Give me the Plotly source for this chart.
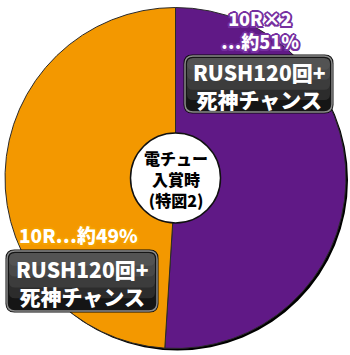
import plotly.graph_objects as go

# ---- data ----
slice_labels = ["10R×2…約51%", "10R…約49%"]
slice_values = [51, 49]
slice_colors = ["#601986", "#F39800"]
center_text = "電チュー<br>入賞時<br>(特図2)"
label_top = "10R×2<br>…約51%"
label_left = "10R…約49%"
box_text = "RUSH120回+<br>死神チャンス"

W, H = 350, 355
FONT = "Noto Sans CJK JP"

fig = go.Figure()

# pie geometry (pixels)
L, R, T, B = 5, 346, 6, 350
fig.add_trace(go.Pie(
    values=slice_values, labels=slice_labels, sort=False,
    direction="clockwise", rotation=0,
    marker=dict(colors=slice_colors, line=dict(color="#2a2a2a", width=1)),
    textinfo="none", hoverinfo="label",
    domain=dict(x=[L / W, R / W], y=[1 - B / H, 1 - T / H]),
    showlegend=False,
))

cx, cy, r = (L + R) / 2, (T + B) / 2, (R - L) / 2


def rrect(x0, y0, x1, y1, rad):
    return (f"M{x0+rad},{y0} L{x1-rad},{y0} Q{x1},{y0} {x1},{y0+rad} "
            f"L{x1},{y1-rad} Q{x1},{y1} {x1-rad},{y1} L{x0+rad},{y1} "
            f"Q{x0},{y1} {x0},{y1-rad} L{x0},{y0+rad} Q{x0},{y0} {x0+rad},{y0} Z")


shapes = []
# drop shadow behind pie
shapes.append(dict(type="circle", xref="x", yref="y", layer="below",
                   x0=cx - r + 2, x1=cx + r + 2, y0=cy - r + 2, y1=cy + r + 2,
                   fillcolor="#000", line=dict(width=0)))
# centre disc
cr = 45
shapes.append(dict(type="circle", xref="x", yref="y", layer="above",
                   x0=cx - cr, x1=cx + cr, y0=cy - cr, y1=cy + cr,
                   fillcolor="white", line=dict(color="#111", width=1.5)))

# dark rounded boxes (approximate vertical gradient with stacked bands)
boxes = [(185, 56, 332, 112), (7, 251, 157, 311)]
for (x0, y0, x1, y1) in boxes:
    shapes.append(dict(type="path", xref="x", yref="y", layer="above",
                       path=rrect(x0 - 1.5, y0 - 1.5, x1 + 1.5, y1 + 1.5, 9),
                       fillcolor="#0a0a0a", line=dict(width=0)))
    shapes.append(dict(type="path", xref="x", yref="y", layer="above",
                       path=rrect(x0, y0, x1, y1, 8),
                       fillcolor="#151515", line=dict(color="#8a8a8a", width=1.5)))
    hh = y1 - y0
    for k, a in enumerate([0.10, 0.08, 0.07, 0.06]):
        shapes.append(dict(type="path", xref="x", yref="y", layer="above",
                           path=rrect(x0 + 2, y0 + 2, x1 - 2, y1 - 2 - hh * 0.18 * (k + 1), 6),
                           fillcolor=f"rgba(255,255,255,{a})", line=dict(width=0)))


def outline(c):
    return (f"-1.5px -1.5px 0 {c}, 1.5px -1.5px 0 {c}, -1.5px 1.5px 0 {c}, 1.5px 1.5px 0 {c}, "
            f"0 -2px 0 {c}, 0 2px 0 {c}, -2px 0 0 {c}, 2px 0 0 {c}")


ann = []
ann.append(dict(x=cx, y=cy + 1, text=center_text, showarrow=False,
                font=dict(family=FONT, size=16, color="#000", weight=900)))
ann.append(dict(x=260, y=29, text=label_top, showarrow=False,
                font=dict(family=FONT, size=18, color="white", weight=900,
                          shadow=outline("#7630a0"))))
ann.append(dict(x=78, y=234, text=label_left, showarrow=False,
                font=dict(family=FONT, size=19, color="white", weight=900,
                          shadow=outline("#f5a100"))))
for (x0, y0, x1, y1) in boxes:
    ann.append(dict(x=(x0 + x1) / 2, y=(y0 + y1) / 2 + 1, text=box_text,
                    showarrow=False,
                    font=dict(family=FONT, size=21, color="white", weight=900)))
for a in ann:
    a.update(xref="x", yref="y")

fig.update_layout(
    width=W, height=H, margin=dict(l=0, r=0, t=0, b=0),
    paper_bgcolor="white", plot_bgcolor="rgba(0,0,0,0)",
    xaxis=dict(range=[0, W], visible=False, fixedrange=True),
    yaxis=dict(range=[H, 0], visible=False, fixedrange=True),
    shapes=shapes, annotations=ann,
)
fig.write_html("out.html")
